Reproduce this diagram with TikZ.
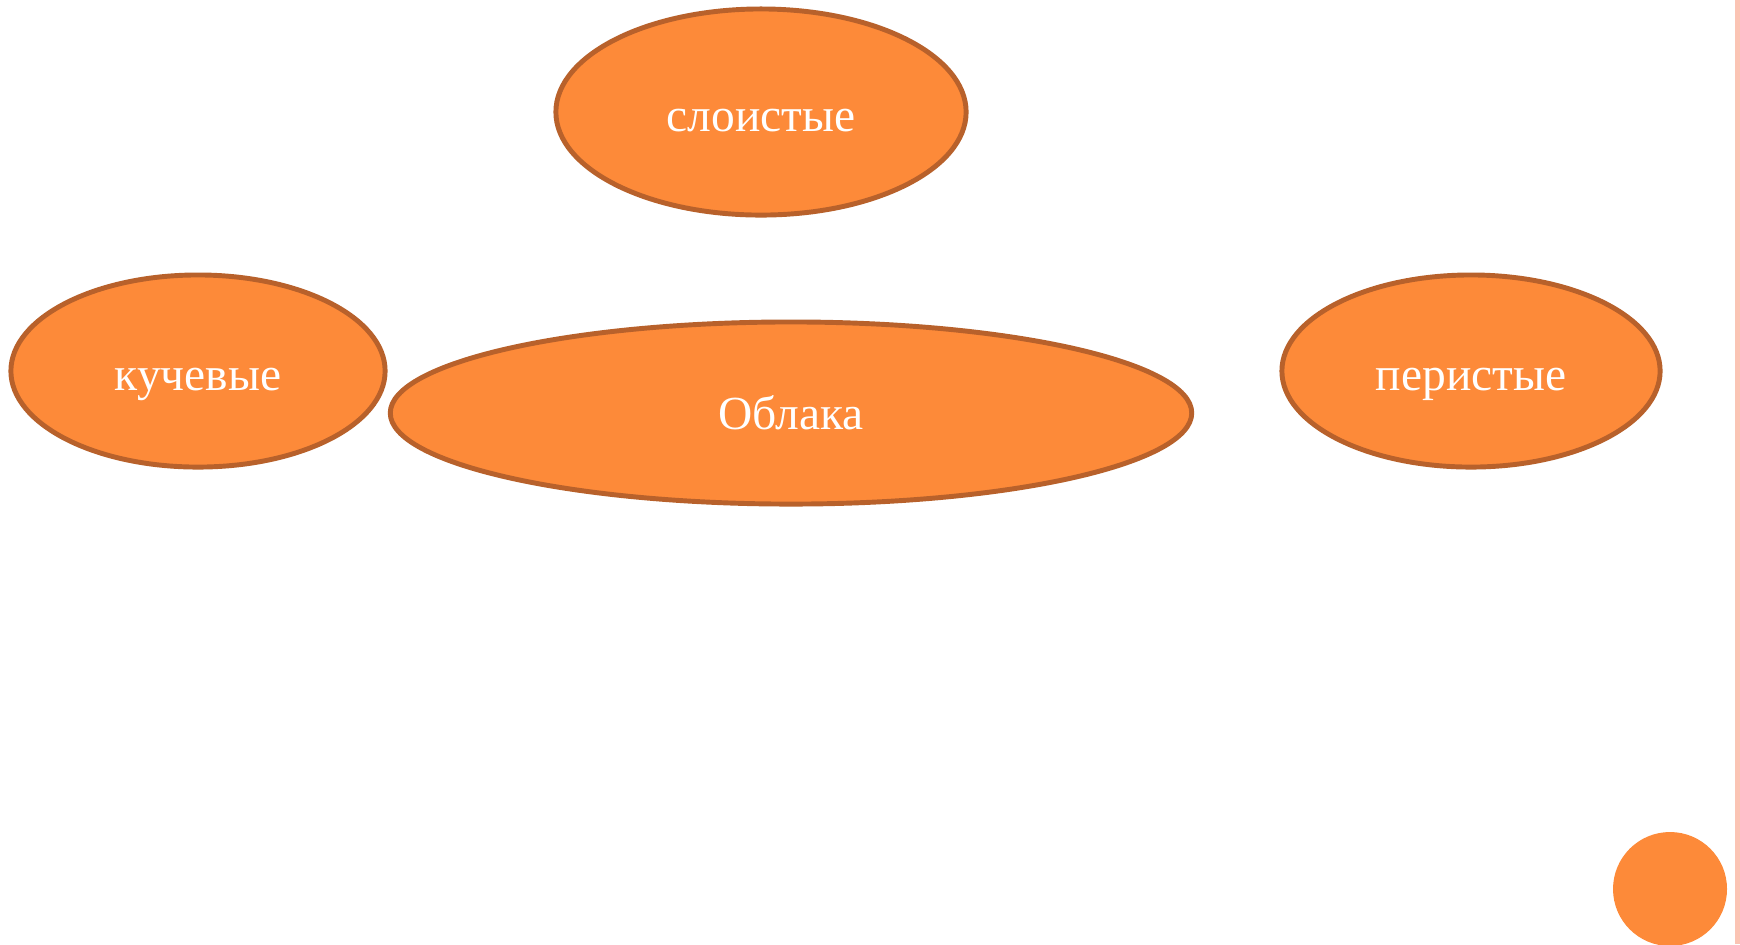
\documentclass[tikz,border=0pt]{standalone}
\usepackage{fontspec}
\setmainfont{Liberation Serif}
\usepackage{xcolor}
\usetikzlibrary{shapes.geometric}

\definecolor{cloudfill}{HTML}{FD8A39}
\definecolor{cloudline}{HTML}{B8612B}
\definecolor{edgepink}{HTML}{FBC4B4}

\begin{document}
\begin{tikzpicture}[x=0.01cm, y=-0.01cm,
    cloudbox/.style={ellipse, draw=cloudline, fill=cloudfill, line width=1.4pt,
        inner sep=0pt, text=white, text height=11.2pt, text depth=0.3pt,
        font=\fontsize{13.5}{16}\selectfont}]
    % Frame
    \useasboundingbox (0,0) rectangle (1740,944);
    \fill[white] (0,0) rectangle (1740,944);
    \fill[edgepink] (1735,0) rectangle (1740,944);

    % Draw ellipses
    \node[cloudbox, minimum width=4.10cm, minimum height=2.06cm] (layer) at (761,112) {слоистые};
    \node[cloudbox, minimum width=3.74cm, minimum height=1.92cm] (cumulus) at (198,371) {кучевые};
    \node[cloudbox, minimum width=8.01cm, minimum height=1.82cm, text height=9.4pt] (clouds) at (791,413) {Облака};
    \node[cloudbox, minimum width=3.78cm, minimum height=1.92cm] (cirrus) at (1471,371) {перистые};

    % Corner dot
    \fill[cloudfill] (1670,889) circle (57);
\end{tikzpicture}
\end{document}
